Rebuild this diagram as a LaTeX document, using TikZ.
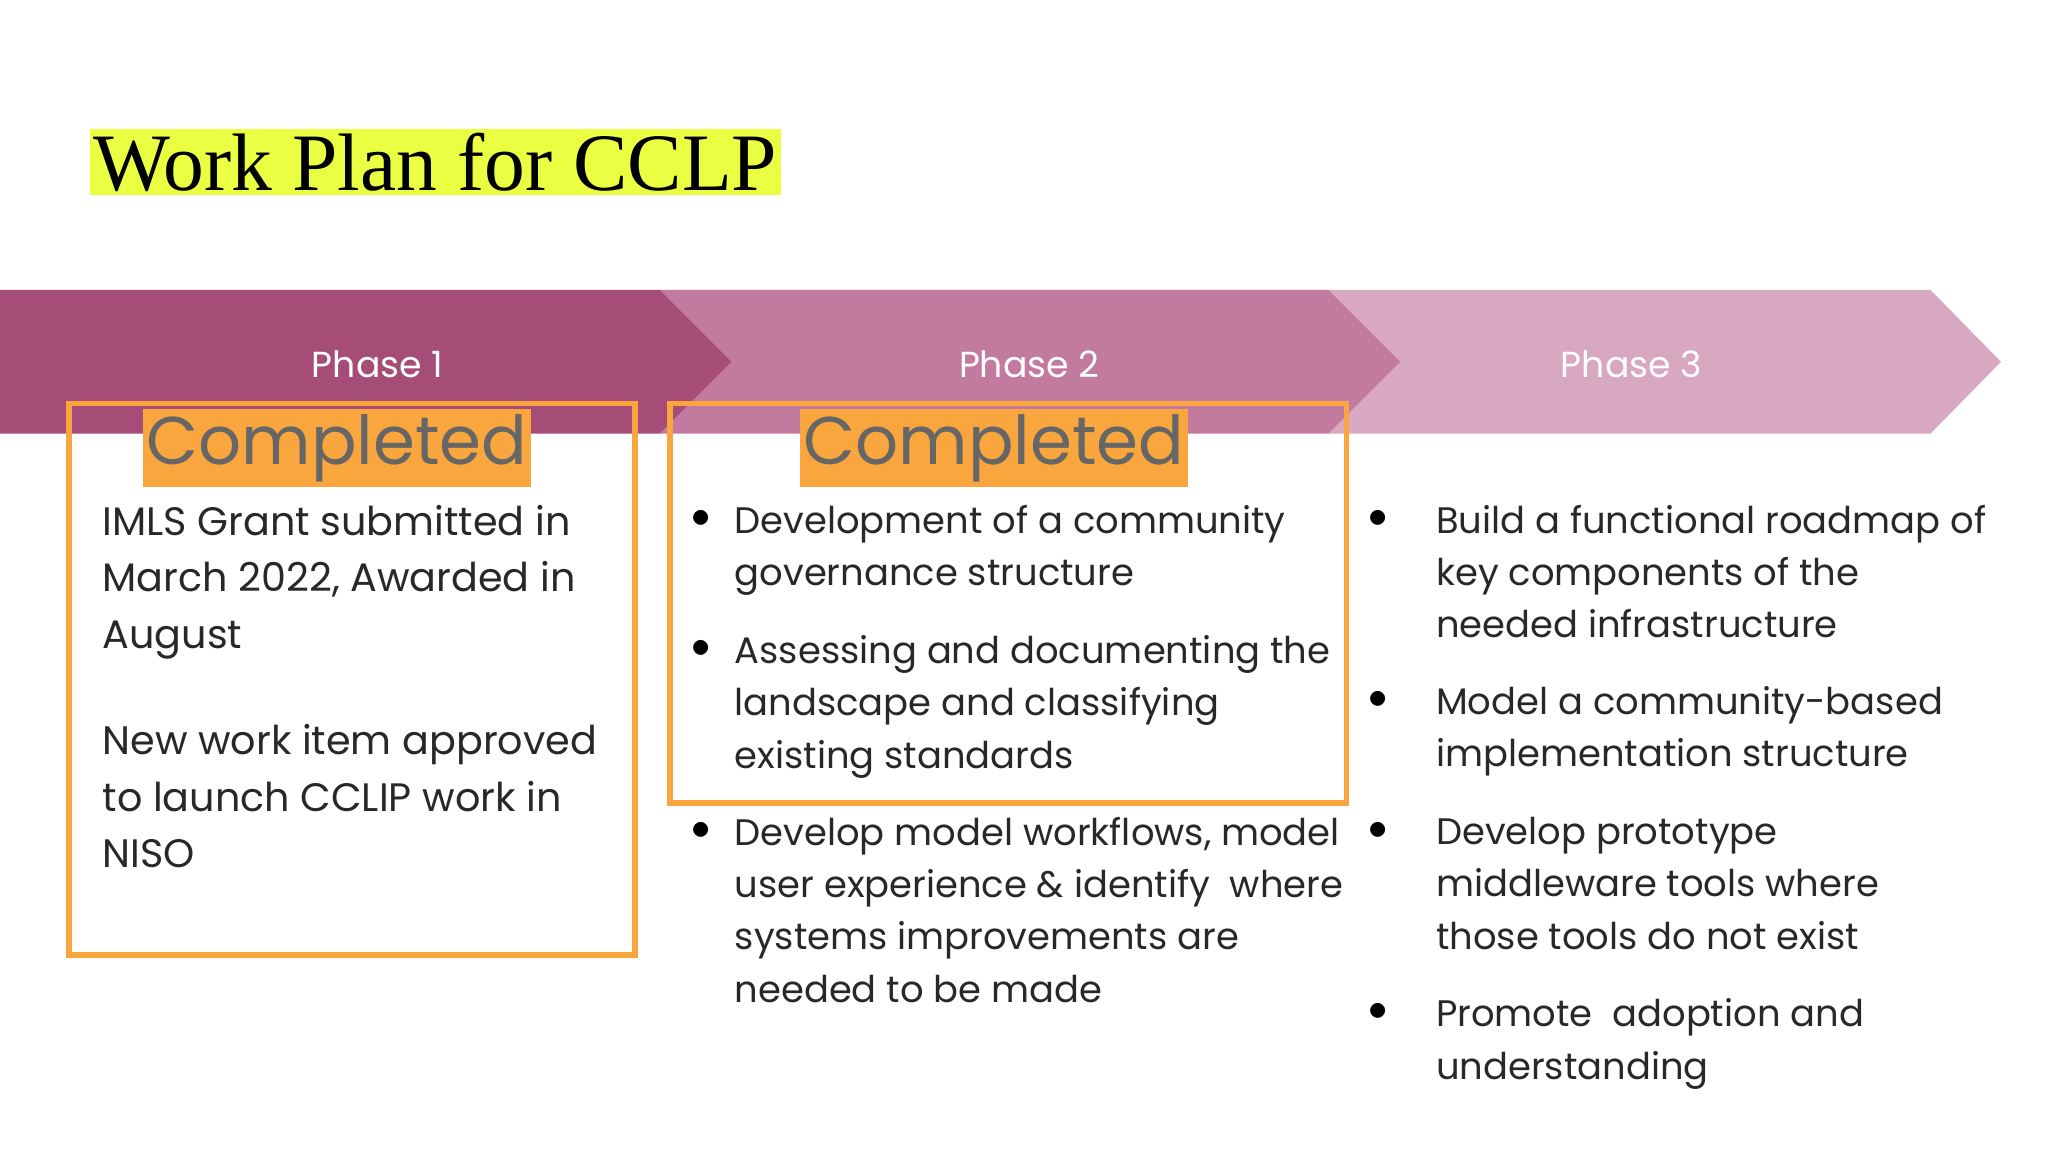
\documentclass[tikz,border=0pt]{standalone}
\usepackage{fontspec}
\setmainfont{Poppins}
\newfontfamily\titlefont{Liberation Serif}
\usetikzlibrary{positioning}
\definecolor{phaseone}{RGB}{165,77,118}
\definecolor{phasetwo}{RGB}{194,122,158}
\definecolor{phasethree}{RGB}{216,167,192}
\definecolor{doneorange}{RGB}{249,166,63}
\definecolor{bodygray}{RGB}{40,40,40}
\definecolor{marker}{RGB}{234,255,66}
\begin{document}
\begin{tikzpicture}[x=0.01306cm, y=-0.01306cm,
    phase/.style={font=\fontsize{10.3}{12}\selectfont, text=white},
    frame/.style={draw=doneorange, line width=1.6pt},
    done/.style={fill=doneorange, text=black!60, inner sep=1pt, minimum width=292*0.01306cm, minimum height=60*0.01306cm, font=\fontsize{19.2}{22}\selectfont},
    body/.style={anchor=north west, align=left, inner sep=0pt, text=bodygray, font=\fontsize{10.5}{14.9}\selectfont},
    bigbody/.style={body, font=\fontsize{11.3}{16.1}\selectfont},
    dot/.style={anchor=north west, inner sep=0pt, text=black, font=\fontsize{10.8}{15}\selectfont}
]
\useasboundingbox (0,0) rectangle (1568,882);

% Title
\node[fill=marker, inner sep=1pt, anchor=west, font=\titlefont\fontsize{23.2}{26}\selectfont] (title) at (68,124) {Work Plan for CCLP};

% Chevrons
\fill[phasethree] (1017,222) -- (1478,222) -- (1532,277) -- (1478,332) -- (1017,332) -- cycle;
\fill[phasetwo] (505,222) -- (1017,222) -- (1072,277) -- (1017,332) -- (505,332) -- cycle;
\fill[phaseone] (0,222) -- (505,222) -- (560,277) -- (505,332) -- (0,332) -- cycle;
\node[phase] (p1) at (289,279) {Phase 1};
\node[phase] (p2) at (788,279) {Phase 2};
\node[phase] (p3) at (1249,279) {Phase 3};

% Completed frames
\draw[frame] (53,309) rectangle (486,731);
\draw[frame] (513,309) rectangle (1031,615);
\node[done] (done1) at (258,343) {Completed};
\node[done] (done2) at (761,343) {Completed};

% Phase 1 text
\node[bigbody] (grant) at (78,386) {IMLS Grant submitted in\\March 2022, Awarded in\\August};
\node[bigbody] (niso) at (78,554) {New work item approved\\to launch CCLIP work in\\NISO};

% Phase 2 items
\node[dot] (b21) at (529,390) {$\bullet$};
\node[body] (t21) at (562,386) {Development of a community\\governance structure};
\node[dot] (b22) at (529,490) {$\bullet$};
\node[body] (t22) at (562,486) {Assessing and documenting the\\landscape and classifying\\existing standards};
\node[dot] (b23) at (529,629) {$\bullet$};
\node[body] (t23) at (562,625) {Develop model workflows, model\\user experience \& identify\ \ where\\systems improvements are\\needed to be made};

% Phase 3 items
\node[dot] (b31) at (1047,390) {$\bullet$};
\node[body] (t31) at (1099,386) {Build a functional roadmap of\\key components of the\\needed infrastructure};
\node[dot] (b32) at (1047,529) {$\bullet$};
\node[body] (t32) at (1099,525) {Model a community-based\\implementation structure};
\node[dot] (b33) at (1047,629) {$\bullet$};
\node[body] (t33) at (1099,625) {Develop prototype\\middleware tools where\\those tools do not exist};
\node[dot] (b34) at (1047,768) {$\bullet$};
\node[body] (t34) at (1099,764) {Promote\ \ adoption and\\understanding};
\end{tikzpicture}
\end{document}
